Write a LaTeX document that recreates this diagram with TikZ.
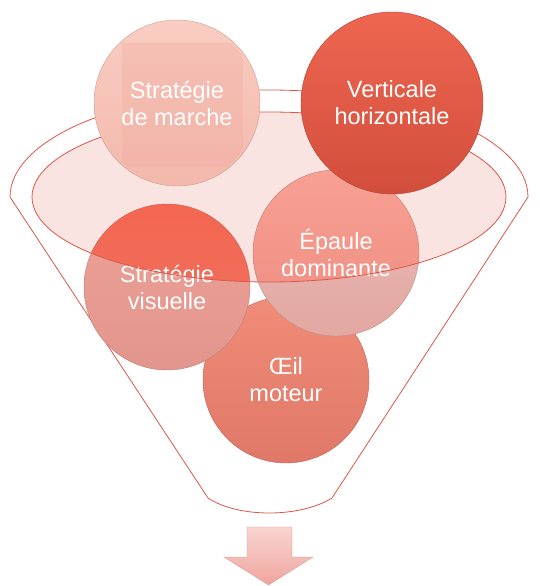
\documentclass[tikz,border=0pt]{standalone}
\usepackage{fontspec}
\setmainfont{Liberation Sans}
\definecolor{rimred}{HTML}{DC5648}
\definecolor{mouthpink}{HTML}{F9E4E2}
\definecolor{oilt}{HTML}{F08C78}
\definecolor{oilc}{HTML}{E07868}
\definecolor{visa}{HTML}{ECA298}
\definecolor{visb}{HTML}{E2958C}
\definecolor{visr1}{HTML}{F46650}
\definecolor{visr2}{HTML}{EC7464}
\definecolor{epaa}{HTML}{ECBAB4}
\definecolor{epab}{HTML}{E2A8A2}
\definecolor{epar1}{HTML}{F8A094}
\definecolor{epar2}{HTML}{EE8C80}
\definecolor{mara}{HTML}{F9CDC2}
\definecolor{marb}{HTML}{F4B8AC}
\definecolor{marsq}{HTML}{EFA89C}
\definecolor{vera}{HTML}{EE6650}
\definecolor{verb}{HTML}{D24E3C}
\definecolor{arrt}{HTML}{F8D4D0}
\definecolor{arrb}{HTML}{EFA59E}
\tikzset{
  bub/.style={circle, inner sep=0pt, minimum size=166pt, draw=#1!85!black, line width=0.4pt},
  lbl/.style={text=white, align=center, font=\fontsize{23.5}{27}\selectfont},
  rim/.style={draw=rimred, line width=0.8pt},
}
\begin{document}
\begin{tikzpicture}[x=1pt,y=-1pt]
\useasboundingbox (0,0) rectangle (539,586);
% funnel outline
\draw[rim] (10,197) arc[start angle=180, end angle=360, x radius=259, y radius=107]
  -- (332,498) .. controls (300,518) and (238,518) .. (208,498) -- cycle;
% lower circles
\node[bub=oilc, top color=oilt, bottom color=oilc] (oeil) at (286,380) {};
\node[lbl] (toeil) at (oeil.center) {Œil\\moteur};
\node[bub=visb, top color=visa, bottom color=visb] (vis) at (167,287) {};
\node[bub=epab, top color=epaa, bottom color=epab] (epa) at (336,253) {};
% mouth region
\begin{scope}
  \clip (269,197) ellipse [x radius=237, y radius=85];
  \fill[mouthpink] (269,197) ellipse [x radius=237, y radius=85];
  \path[top color=visr1, bottom color=visr2, draw=visr2!85!black] (vis.center) circle (83);
  \path[top color=epar1, bottom color=epar2, draw=epar2!85!black] (epa.center) circle (83);
\end{scope}
\node[lbl] (tvis) at (vis.center) {Stratégie\\visuelle};
\node[lbl] (tepa) at (epa.center) {Épaule\\dominante};
\draw[rim] (269,197) ellipse [x radius=237, y radius=85];
% upper circles
\node[bub=marb, top color=mara, bottom color=marb] (mar) at (177,103) {};
\begin{scope}
  \clip (mar.center) circle (81);
  \fill[marsq, opacity=0.3] (122,43) rectangle (243,167);
\end{scope}
\node[lbl] (tmar) at (mar.center) {Stratégie\\de marche};
\node[bub=verb, top color=vera, bottom color=verb, minimum size=182pt] (ver) at (392,103) {};
\node[lbl] (tver) at (ver.center) {Verticale\\horizontale};
% arrow
\path[top color=arrt, bottom color=arrb, draw=arrb!90!black, line width=0.3pt]
  (247,527) -- (292,527) -- (292,557) -- (313,557) -- (268.5,585) -- (224,557) -- (247,557) -- cycle;
\end{tikzpicture}
\end{document}
